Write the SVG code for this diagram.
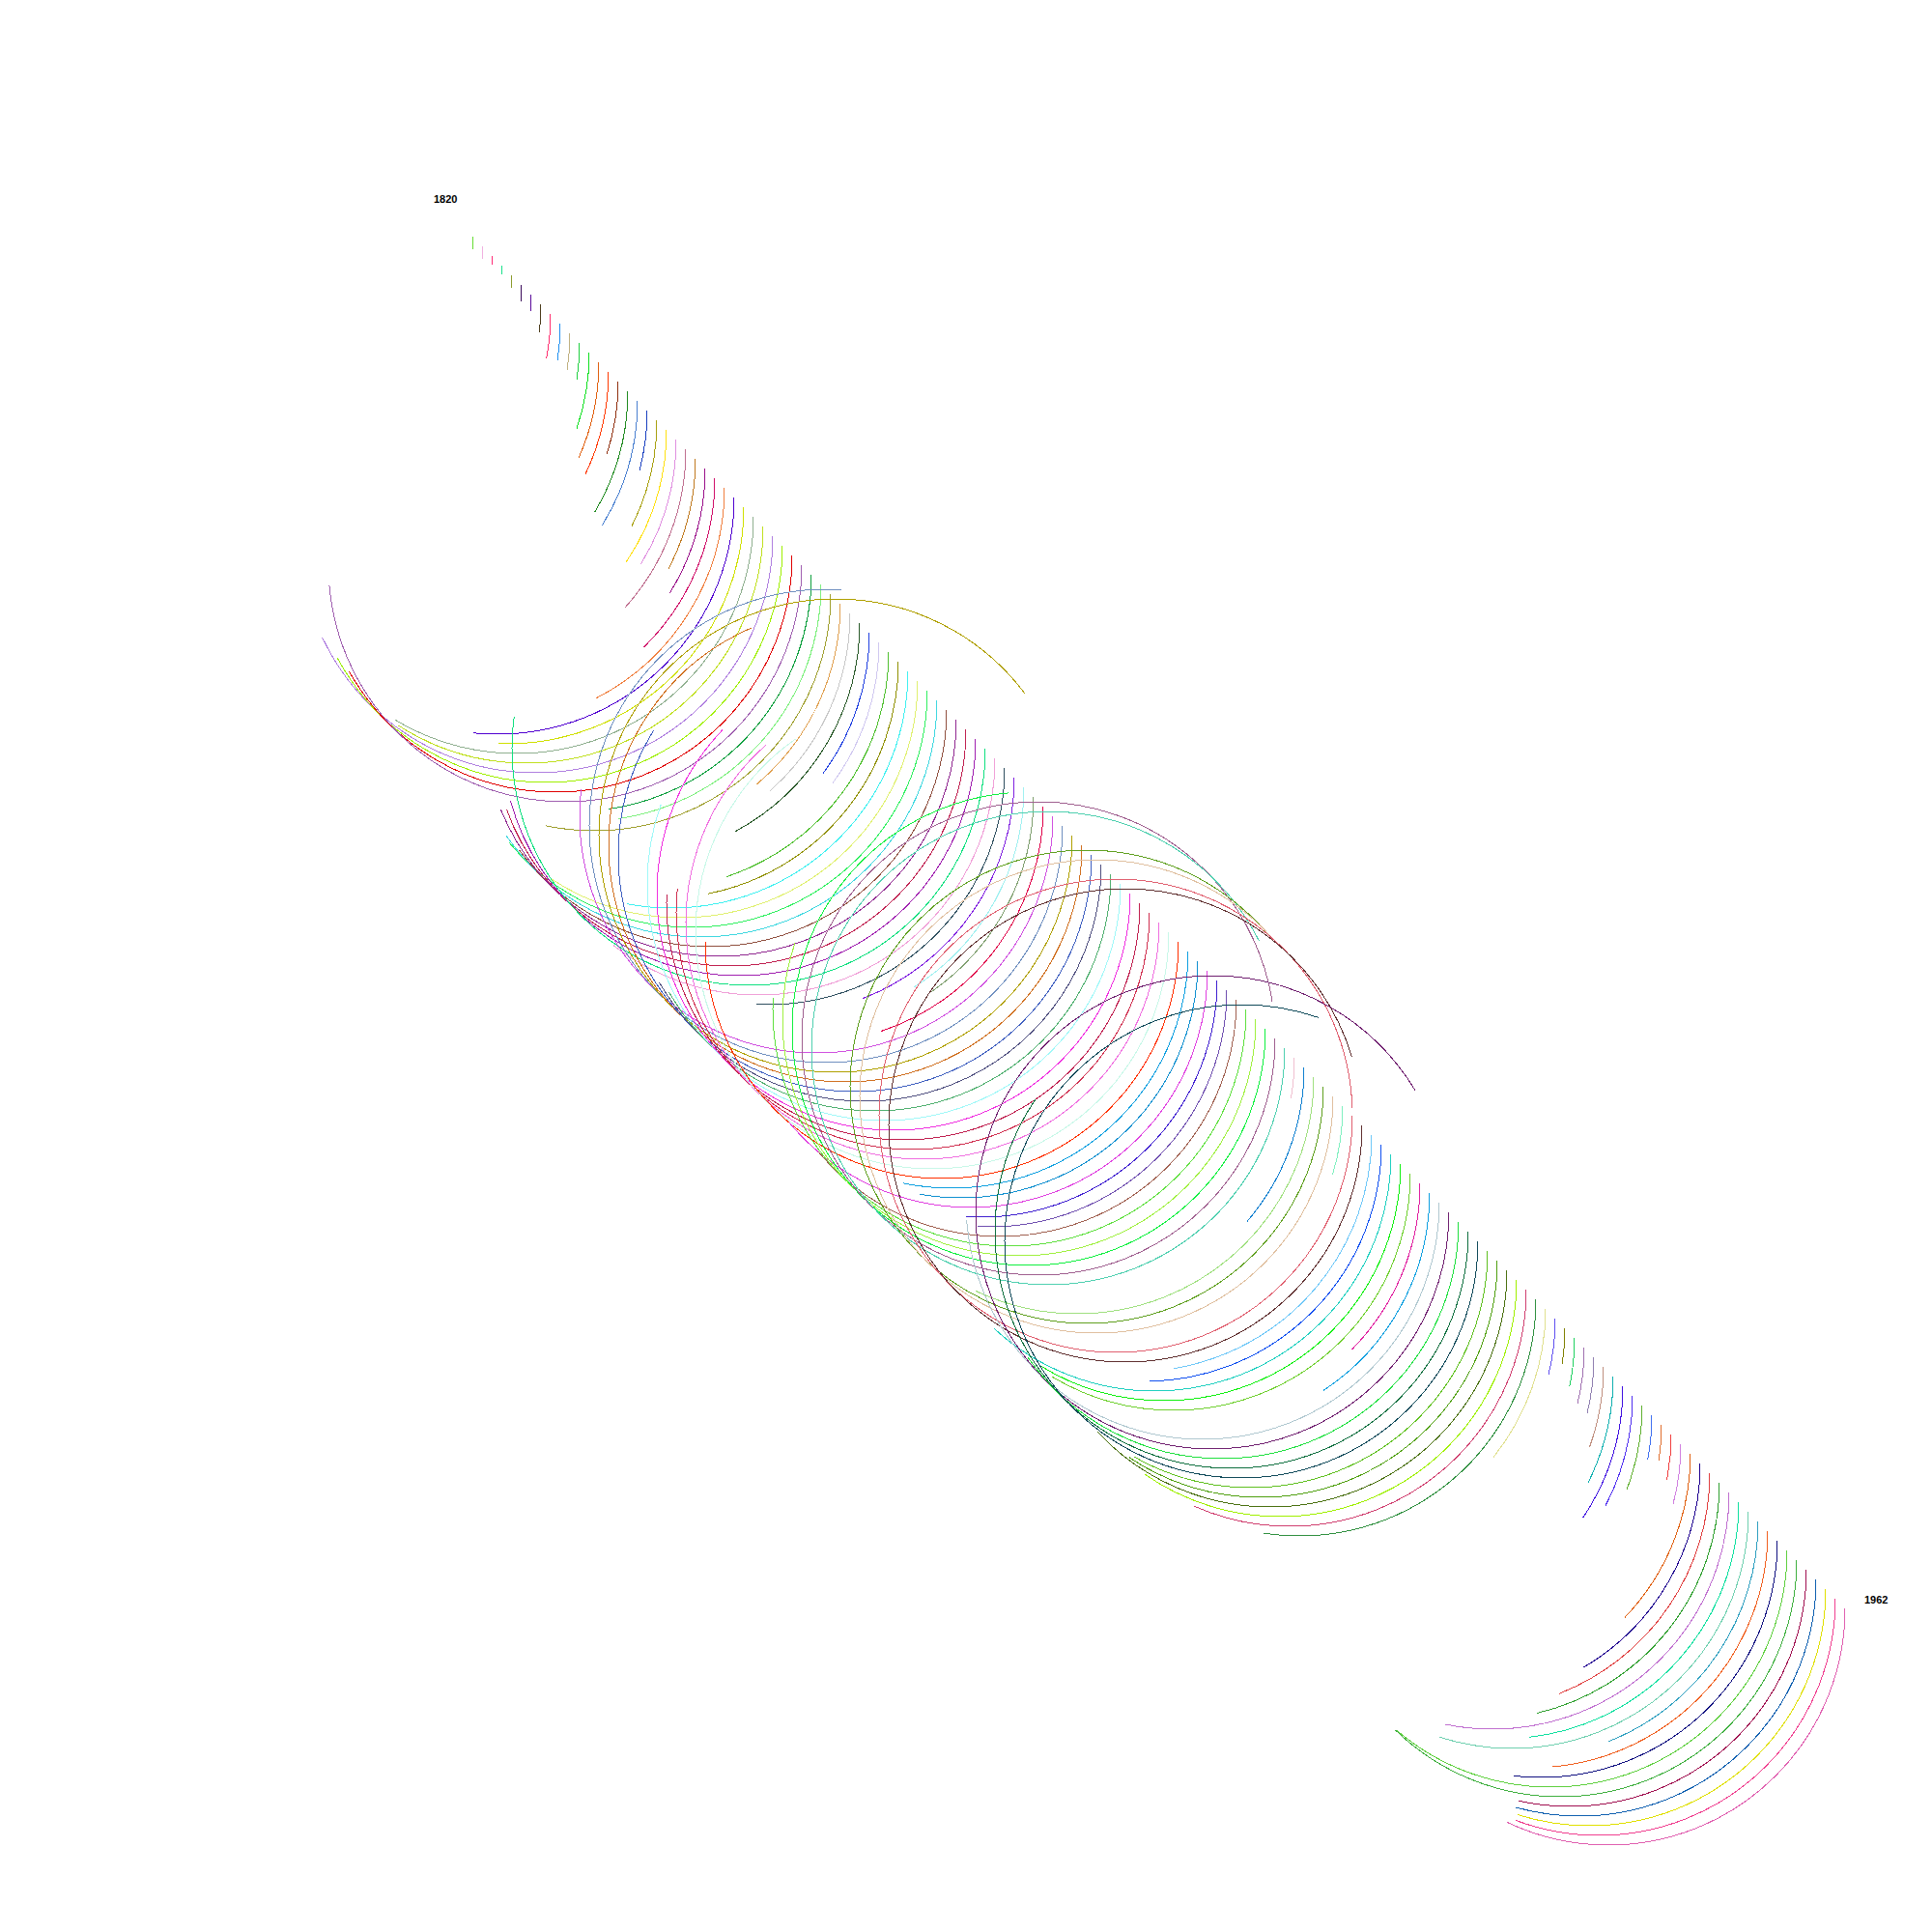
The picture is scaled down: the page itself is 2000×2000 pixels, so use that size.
<svg xmlns="http://www.w3.org/2000/svg" width="2000" height="2000" viewBox="0 0 2000 2000">
<style>
.a{fill:none;stroke-width:1;shape-rendering:crispEdges}
.lb{font-family:"Liberation Sans",Arial,sans-serif;font-size:11px;font-weight:bold;fill:#000}
</style>
<rect width="2000" height="2000" fill="#fff"/>
<g id="labels">
<text class="lb" x="449" y="209.5">1820</text>
<text class="lb" x="1930" y="1659.5">1962</text>
</g>
<g id="arcs">
<circle id="y1820" class="a" cx="245" cy="245" r="245" stroke="#66dd33" stroke-dasharray="12.8 1600"/>
<circle id="y1821" class="a" cx="255" cy="255" r="245" stroke="#f0b0e0" stroke-dasharray="12.8 1600"/>
<circle id="y1822" class="a" cx="265" cy="265" r="245" stroke="#ff2d78" stroke-dasharray="8.7 1600"/>
<circle id="y1823" class="a" cx="275" cy="275" r="245" stroke="#19e08a" stroke-dasharray="8.7 1600"/>
<circle id="y1824" class="a" cx="285" cy="285" r="245" stroke="#8a9a2a" stroke-dasharray="12.7 1600"/>
<circle id="y1825" class="a" cx="295" cy="295" r="245" stroke="#3a0a5a" stroke-dasharray="16.7 1600"/>
<circle id="y1826" class="a" cx="305" cy="305" r="245" stroke="#5a0a9a" stroke-dasharray="16.7 1600"/>
<circle id="y1827" class="a" cx="315" cy="315" r="245" stroke="#4a3a1a" stroke-dasharray="29.1 1600"/>
<circle id="y1828" class="a" cx="325" cy="325" r="245" stroke="#ff3070" stroke-dasharray="46.2 1600"/>
<circle id="y1829" class="a" cx="335" cy="335" r="245" stroke="#2090f0" stroke-dasharray="37.8 1600"/>
<circle id="y1830" class="a" cx="345" cy="345" r="245" stroke="#c0b080" stroke-dasharray="37.8 1600"/>
<circle id="y1831" class="a" cx="355" cy="355" r="245" stroke="#20d040" stroke-dasharray="37.8 1600"/>
<circle id="y1832" class="a" cx="365" cy="365" r="245" stroke="#10e020" stroke-dasharray="80.4 1600"/>
<circle id="y1833" class="a" cx="375" cy="375" r="245" stroke="#e06010" stroke-dasharray="101.8 1600"/>
<circle id="y1834" class="a" cx="385" cy="385" r="245" stroke="#ff3a00" stroke-dasharray="109.5 1600"/>
<circle id="y1835" class="a" cx="395" cy="395" r="245" stroke="#903010" stroke-dasharray="76.1 1600"/>
<circle id="y1836" class="a" cx="405" cy="405" r="245" stroke="#208a20" stroke-dasharray="131.3 1600"/>
<circle id="y1837" class="a" cx="415" cy="415" r="245" stroke="#4a80d0" stroke-dasharray="136 1600"/>
<circle id="y1838" class="a" cx="425" cy="425" r="245" stroke="#1a40c0" stroke-dasharray="62.9 1600"/>
<circle id="y1839" class="a" cx="435" cy="435" r="245" stroke="#a8a010" stroke-dasharray="114.2 1600"/>
<circle id="y1840" class="a" cx="445" cy="445" r="245" stroke="#ffe010" stroke-dasharray="145.4 1600"/>
<circle id="y1841" class="a" cx="455" cy="455" r="245" stroke="#e090e0" stroke-dasharray="136 1600"/>
<circle id="y1842" class="a" cx="465" cy="465" r="245" stroke="#c07090" stroke-dasharray="179.6 1600"/>
<circle id="y1843" class="a" cx="475" cy="475" r="245" stroke="#c07a20" stroke-dasharray="118.4 1600"/>
<circle id="y1844" class="a" cx="485" cy="485" r="245" stroke="#9a108a" stroke-dasharray="136 1600"/>
<circle id="y1845" class="a" cx="495" cy="495" r="245" stroke="#d0106a" stroke-dasharray="195 1600"/>
<circle id="y1846" class="a" cx="505" cy="505" r="245" stroke="#f08040" stroke-dasharray="269 1600"/>
<circle id="y1847" class="a" cx="515" cy="515" r="245" stroke="#5000d0" stroke-dasharray="409.6 1600"/>
<circle id="y1848" class="a" cx="525" cy="525" r="245" stroke="#d0e000" stroke-dasharray="393.4 1600"/>
<circle id="y1849" class="a" cx="535" cy="535" r="245" stroke="#90b090" stroke-dasharray="516.5 1600"/>
<circle id="y1850" class="a" cx="545" cy="545" r="245" stroke="#c0e020" stroke-dasharray="524.7 1600"/>
<circle id="y1851" class="a" cx="555" cy="555" r="245" stroke="#b080e0" stroke-dasharray="661.1 1600"/>
<circle id="y1852" class="a" cx="565" cy="565" r="245" stroke="#a0f000" stroke-dasharray="648.7 1600"/>
<circle id="y1853" class="a" cx="575" cy="575" r="245" stroke="#e00000" stroke-dasharray="643.5 1600"/>
<circle id="y1854" class="a" cx="585" cy="585" r="245" stroke="#a060b0" stroke-dasharray="747.9 1600"/>
<circle id="y1855" class="a" cx="595" cy="595" r="245" stroke="#10a040" stroke-dasharray="349.8 1600"/>
<circle id="y1856" class="a" cx="605" cy="605" r="245" stroke="#80f080" stroke-dasharray="349.8 1600"/>
<circle id="y1857" class="a" cx="615" cy="615" r="245" stroke="#a0a030" stroke-dasharray="435.3 1600"/>
<circle id="y1858" class="a" cx="625" cy="625" r="245" stroke="#e0a050" stroke-dasharray="212.9 1600"/>
<circle id="y1859" class="a" cx="635" cy="635" r="245" stroke="#c8c8c8" stroke-dasharray="207.4 1600"/>
<circle id="y1860" class="a" cx="645" cy="645" r="245" stroke="#2a5a2a" stroke-dasharray="263.8 1600"/>
<circle id="y1861" class="a" cx="655" cy="655" r="245" stroke="#2040e0" stroke-dasharray="156.1 1600"/>
<circle id="y1862" class="a" cx="665" cy="665" r="245" stroke="#d0c8f0" stroke-dasharray="155.6 1600"/>
<circle id="y1863" class="a" cx="675" cy="675" r="245" stroke="#50c030" stroke-dasharray="306.6 1600"/>
<circle id="y1864" class="a" cx="685" cy="685" r="245" stroke="#909000" stroke-dasharray="336.1 1600"/>
<circle id="y1865" class="a" cx="695" cy="695" r="245" stroke="#40f0f0" stroke-dasharray="430.6 1600"/>
<circle id="y1866" class="a" cx="705" cy="705" r="245" stroke="#e0f070" stroke-dasharray="527.7 1600"/>
<circle id="y1867" class="a" cx="715" cy="715" r="245" stroke="#30f060" stroke-dasharray="598.6 1600"/>
<circle id="y1868" class="a" cx="725" cy="725" r="245" stroke="#40d8e0" stroke-dasharray="620 1600"/>
<circle id="y1869" class="a" cx="735" cy="735" r="245" stroke="#905040" stroke-dasharray="614 1600"/>
<circle id="y1870" class="a" cx="745" cy="745" r="245" stroke="#902890" stroke-dasharray="673.9 1600"/>
<circle id="y1871" class="a" cx="755" cy="755" r="245" stroke="#c02050" stroke-dasharray="684.2 1600"/>
<circle id="y1872" class="a" cx="765" cy="765" r="245" stroke="#a020b0" stroke-dasharray="704.7 1600"/>
<circle id="y1873" class="a" cx="775" cy="775" r="245" stroke="#10e080" stroke-dasharray="802.6 1600"/>
<circle id="y1874" class="a" cx="785" cy="785" r="245" stroke="#f0a0d8" stroke-dasharray="546.5 1600"/>
<circle id="y1875" class="a" cx="795" cy="795" r="245" stroke="#305060" stroke-dasharray="396.4 1600"/>
<circle id="y1876" class="a" cx="805" cy="805" r="245" stroke="#8020e0" stroke-dasharray="294.6 1600"/>
<circle id="y1877" class="a" cx="815" cy="815" r="245" stroke="#a0f0f0" stroke-dasharray="245.9 1600"/>
<circle id="y1878" class="a" cx="825" cy="825" r="245" stroke="#80a070" stroke-dasharray="237.7 1600"/>
<circle id="y1879" class="a" cx="835" cy="835" r="245" stroke="#e0004a" stroke-dasharray="306.6 1600"/>
<circle id="y1880" class="a" cx="845" cy="845" r="245" stroke="#d050e0" stroke-dasharray="797.9 1600"/>
<circle id="y1881" class="a" cx="855" cy="855" r="245" stroke="#7090c0" stroke-dasharray="1170.4 1600"/>
<circle id="y1882" class="a" cx="865" cy="865" r="245" stroke="#b0a000" stroke-dasharray="1381.2 1600"/>
<circle id="y1883" class="a" cx="875" cy="875" r="245" stroke="#d07020" stroke-dasharray="1054.9 1600"/>
<circle id="y1884" class="a" cx="885" cy="885" r="245" stroke="#4060c0" stroke-dasharray="904.8 1600"/>
<circle id="y1885" class="a" cx="895" cy="895" r="245" stroke="#505080" stroke-dasharray="641.4 1600"/>
<circle id="y1886" class="a" cx="905" cy="905" r="245" stroke="#50b070" stroke-dasharray="641.4 1600"/>
<circle id="y1887" class="a" cx="915" cy="915" r="245" stroke="#a0f8f8" stroke-dasharray="853.5 1600"/>
<circle id="y1888" class="a" cx="925" cy="925" r="245" stroke="#f030e0" stroke-dasharray="956.1 1600"/>
<circle id="y1889" class="a" cx="935" cy="935" r="245" stroke="#c02050" stroke-dasharray="778.2 1600"/>
<circle id="y1890" class="a" cx="945" cy="945" r="245" stroke="#d03050" stroke-dasharray="794.5 1600"/>
<circle id="y1891" class="a" cx="955" cy="955" r="245" stroke="#f070e0" stroke-dasharray="977.5 1600"/>
<circle id="y1892" class="a" cx="965" cy="965" r="245" stroke="#c8f8e8" stroke-dasharray="1003.2 1600"/>
<circle id="y1893" class="a" cx="975" cy="975" r="245" stroke="#ff3000" stroke-dasharray="769.7 1600"/>
<circle id="y1894" class="a" cx="985" cy="985" r="245" stroke="#10a0e0" stroke-dasharray="435.3 1600"/>
<circle id="y1895" class="a" cx="995" cy="995" r="245" stroke="#1090d0" stroke-dasharray="427.6 1600"/>
<circle id="y1896" class="a" cx="1005" cy="1005" r="245" stroke="#e040e0" stroke-dasharray="598.6 1600"/>
<circle id="y1897" class="a" cx="1015" cy="1015" r="245" stroke="#4020d0" stroke-dasharray="399.8 1600"/>
<circle id="y1898" class="a" cx="1025" cy="1025" r="245" stroke="#7050b0" stroke-dasharray="397.7 1600"/>
<circle id="y1899" class="a" cx="1035" cy="1035" r="245" stroke="#a06050" stroke-dasharray="598.6 1600"/>
<circle id="y1900" class="a" cx="1045" cy="1045" r="245" stroke="#60e040" stroke-dasharray="781.2 1600"/>
<circle id="y1901" class="a" cx="1055" cy="1055" r="245" stroke="#a0f040" stroke-dasharray="849.2 1600"/>
<circle id="y1902" class="a" cx="1065" cy="1065" r="245" stroke="#10f040" stroke-dasharray="1133.2 1600"/>
<circle id="y1903" class="a" cx="1075" cy="1075" r="245" stroke="#a06090" stroke-dasharray="1500.9 1600"/>
<circle id="y1904" class="a" cx="1085" cy="1085" r="245" stroke="#50d0b0" stroke-dasharray="1423.9 1600"/>
<circle id="y1905" class="a" cx="1095" cy="1095" r="245" stroke="#f0c0d0" stroke-dasharray="42.3 1600"/>
<circle id="y1906" class="a" cx="1105" cy="1105" r="245" stroke="#1080d0" stroke-dasharray="173.6 1600"/>
<circle id="y1907" class="a" cx="1115" cy="1115" r="245" stroke="#a0e080" stroke-dasharray="493 1600"/>
<circle id="y1908" class="a" cx="1125" cy="1125" r="245" stroke="#60a020" stroke-dasharray="1368.3 1600"/>
<circle id="y1909" class="a" cx="1135" cy="1135" r="245" stroke="#e0c0a0" stroke-dasharray="1359.8 1600"/>
<circle id="y1910" class="a" cx="1145" cy="1145" r="245" stroke="#80f0c0" stroke-dasharray="71.8 1600"/>
<circle id="y1911" class="a" cx="1155" cy="1155" r="245" stroke="#e06070" stroke-dasharray="1530.8 1600"/>
<circle id="y1912" class="a" cx="1165" cy="1165" r="245" stroke="#603030" stroke-dasharray="1466.7 1600"/>
<circle id="y1913" class="a" cx="1175" cy="1175" r="245" stroke="#70c8f8" stroke-dasharray="344.6 1600"/>
<circle id="y1914" class="a" cx="1185" cy="1185" r="245" stroke="#1050f0" stroke-dasharray="379.7 1600"/>
<circle id="y1915" class="a" cx="1195" cy="1195" r="245" stroke="#20d0c0" stroke-dasharray="567 1600"/>
<circle id="y1916" class="a" cx="1205" cy="1205" r="245" stroke="#10f010" stroke-dasharray="520 1600"/>
<circle id="y1917" class="a" cx="1215" cy="1215" r="245" stroke="#70d030" stroke-dasharray="516.5 1600"/>
<circle id="y1918" class="a" cx="1225" cy="1225" r="245" stroke="#e020a0" stroke-dasharray="190.7 1600"/>
<circle id="y1919" class="a" cx="1235" cy="1235" r="245" stroke="#10a0e0" stroke-dasharray="242 1600"/>
<circle id="y1920" class="a" cx="1245" cy="1245" r="245" stroke="#b0c8d0" stroke-dasharray="751.3 1600"/>
<circle id="y1921" class="a" cx="1255" cy="1255" r="245" stroke="#702070" stroke-dasharray="1406.8 1600"/>
<circle id="y1922" class="a" cx="1265" cy="1265" r="245" stroke="#20e040" stroke-dasharray="620 1600"/>
<circle id="y1923" class="a" cx="1275" cy="1275" r="245" stroke="#107040" stroke-dasharray="915.1 1600"/>
<circle id="y1924" class="a" cx="1285" cy="1285" r="245" stroke="#104a5a" stroke-dasharray="1235.8 1600"/>
<circle id="y1925" class="a" cx="1295" cy="1295" r="245" stroke="#60c020" stroke-dasharray="511.4 1600"/>
<circle id="y1926" class="a" cx="1305" cy="1305" r="245" stroke="#50a010" stroke-dasharray="528.9 1600"/>
<circle id="y1927" class="a" cx="1315" cy="1315" r="245" stroke="#4a7010" stroke-dasharray="585 1600"/>
<circle id="y1928" class="a" cx="1325" cy="1325" r="245" stroke="#a0f000" stroke-dasharray="534.1 1600"/>
<circle id="y1929" class="a" cx="1335" cy="1335" r="245" stroke="#d04070" stroke-dasharray="486.2 1600"/>
<circle id="y1930" class="a" cx="1345" cy="1345" r="245" stroke="#309040" stroke-dasharray="421.6 1600"/>
<circle id="y1931" class="a" cx="1355" cy="1355" r="245" stroke="#e0e090" stroke-dasharray="165.5 1600"/>
<circle id="y1932" class="a" cx="1365" cy="1365" r="245" stroke="#6050f0" stroke-dasharray="58.6 1600"/>
<circle id="y1933" class="a" cx="1375" cy="1375" r="245" stroke="#808000" stroke-dasharray="37.2 1600"/>
<circle id="y1934" class="a" cx="1385" cy="1385" r="245" stroke="#20d060" stroke-dasharray="50.9 1600"/>
<circle id="y1935" class="a" cx="1395" cy="1395" r="245" stroke="#a070b0" stroke-dasharray="58.6 1600"/>
<circle id="y1936" class="a" cx="1405" cy="1405" r="245" stroke="#9080b0" stroke-dasharray="58.6 1600"/>
<circle id="y1937" class="a" cx="1415" cy="1415" r="245" stroke="#c09080" stroke-dasharray="85.1 1600"/>
<circle id="y1938" class="a" cx="1425" cy="1425" r="245" stroke="#10b0b0" stroke-dasharray="114.2 1600"/>
<circle id="y1939" class="a" cx="1435" cy="1435" r="245" stroke="#4010e0" stroke-dasharray="144.1 1600"/>
<circle id="y1940" class="a" cx="1445" cy="1445" r="245" stroke="#5030f0" stroke-dasharray="118.9 1600"/>
<circle id="y1941" class="a" cx="1455" cy="1455" r="245" stroke="#60b030" stroke-dasharray="89.4 1600"/>
<circle id="y1942" class="a" cx="1465" cy="1465" r="245" stroke="#4070f0" stroke-dasharray="46.2 1600"/>
<circle id="y1943" class="a" cx="1475" cy="1475" r="245" stroke="#e07030" stroke-dasharray="37.2 1600"/>
<circle id="y1944" class="a" cx="1485" cy="1485" r="245" stroke="#f04040" stroke-dasharray="47 1600"/>
<circle id="y1945" class="a" cx="1495" cy="1495" r="245" stroke="#d080e0" stroke-dasharray="62.9 1600"/>
<circle id="y1946" class="a" cx="1505" cy="1505" r="245" stroke="#e06010" stroke-dasharray="186.9 1600"/>
<circle id="y1947" class="a" cx="1515" cy="1515" r="245" stroke="#200090" stroke-dasharray="254 1600"/>
<circle id="y1948" class="a" cx="1525" cy="1525" r="245" stroke="#e04040" stroke-dasharray="293.3 1600"/>
<circle id="y1949" class="a" cx="1535" cy="1535" r="245" stroke="#30a030" stroke-dasharray="328 1600"/>
<circle id="y1950" class="a" cx="1545" cy="1545" r="245" stroke="#c070d0" stroke-dasharray="434.4 1600"/>
<circle id="y1951" class="a" cx="1555" cy="1555" r="245" stroke="#10e0a0" stroke-dasharray="357 1600"/>
<circle id="y1952" class="a" cx="1565" cy="1565" r="245" stroke="#70d0b0" stroke-dasharray="461 1600"/>
<circle id="y1953" class="a" cx="1575" cy="1575" r="245" stroke="#30a0c0" stroke-dasharray="292.5 1600"/>
<circle id="y1954" class="a" cx="1585" cy="1585" r="245" stroke="#f06020" stroke-dasharray="362.2 1600"/>
<circle id="y1955" class="a" cx="1595" cy="1595" r="245" stroke="#101080" stroke-dasharray="413.1 1600"/>
<circle id="y1956" class="a" cx="1605" cy="1605" r="245" stroke="#60d040" stroke-dasharray="558.5 1600"/>
<circle id="y1957" class="a" cx="1615" cy="1615" r="245" stroke="#40b040" stroke-dasharray="573 1600"/>
<circle id="y1958" class="a" cx="1625" cy="1625" r="245" stroke="#a01050" stroke-dasharray="437.9 1600"/>
<circle id="y1959" class="a" cx="1635" cy="1635" r="245" stroke="#1060b0" stroke-dasharray="451.6 1600"/>
<circle id="y1960" class="a" cx="1645" cy="1645" r="245" stroke="#e0e000" stroke-dasharray="460.1 1600"/>
<circle id="y1961" class="a" cx="1655" cy="1655" r="245" stroke="#f04090" stroke-dasharray="472.9 1600"/>
<circle id="y1962" class="a" cx="1665" cy="1665" r="245" stroke="#e060b0" stroke-dasharray="493 1600"/>
</g>
</svg>
